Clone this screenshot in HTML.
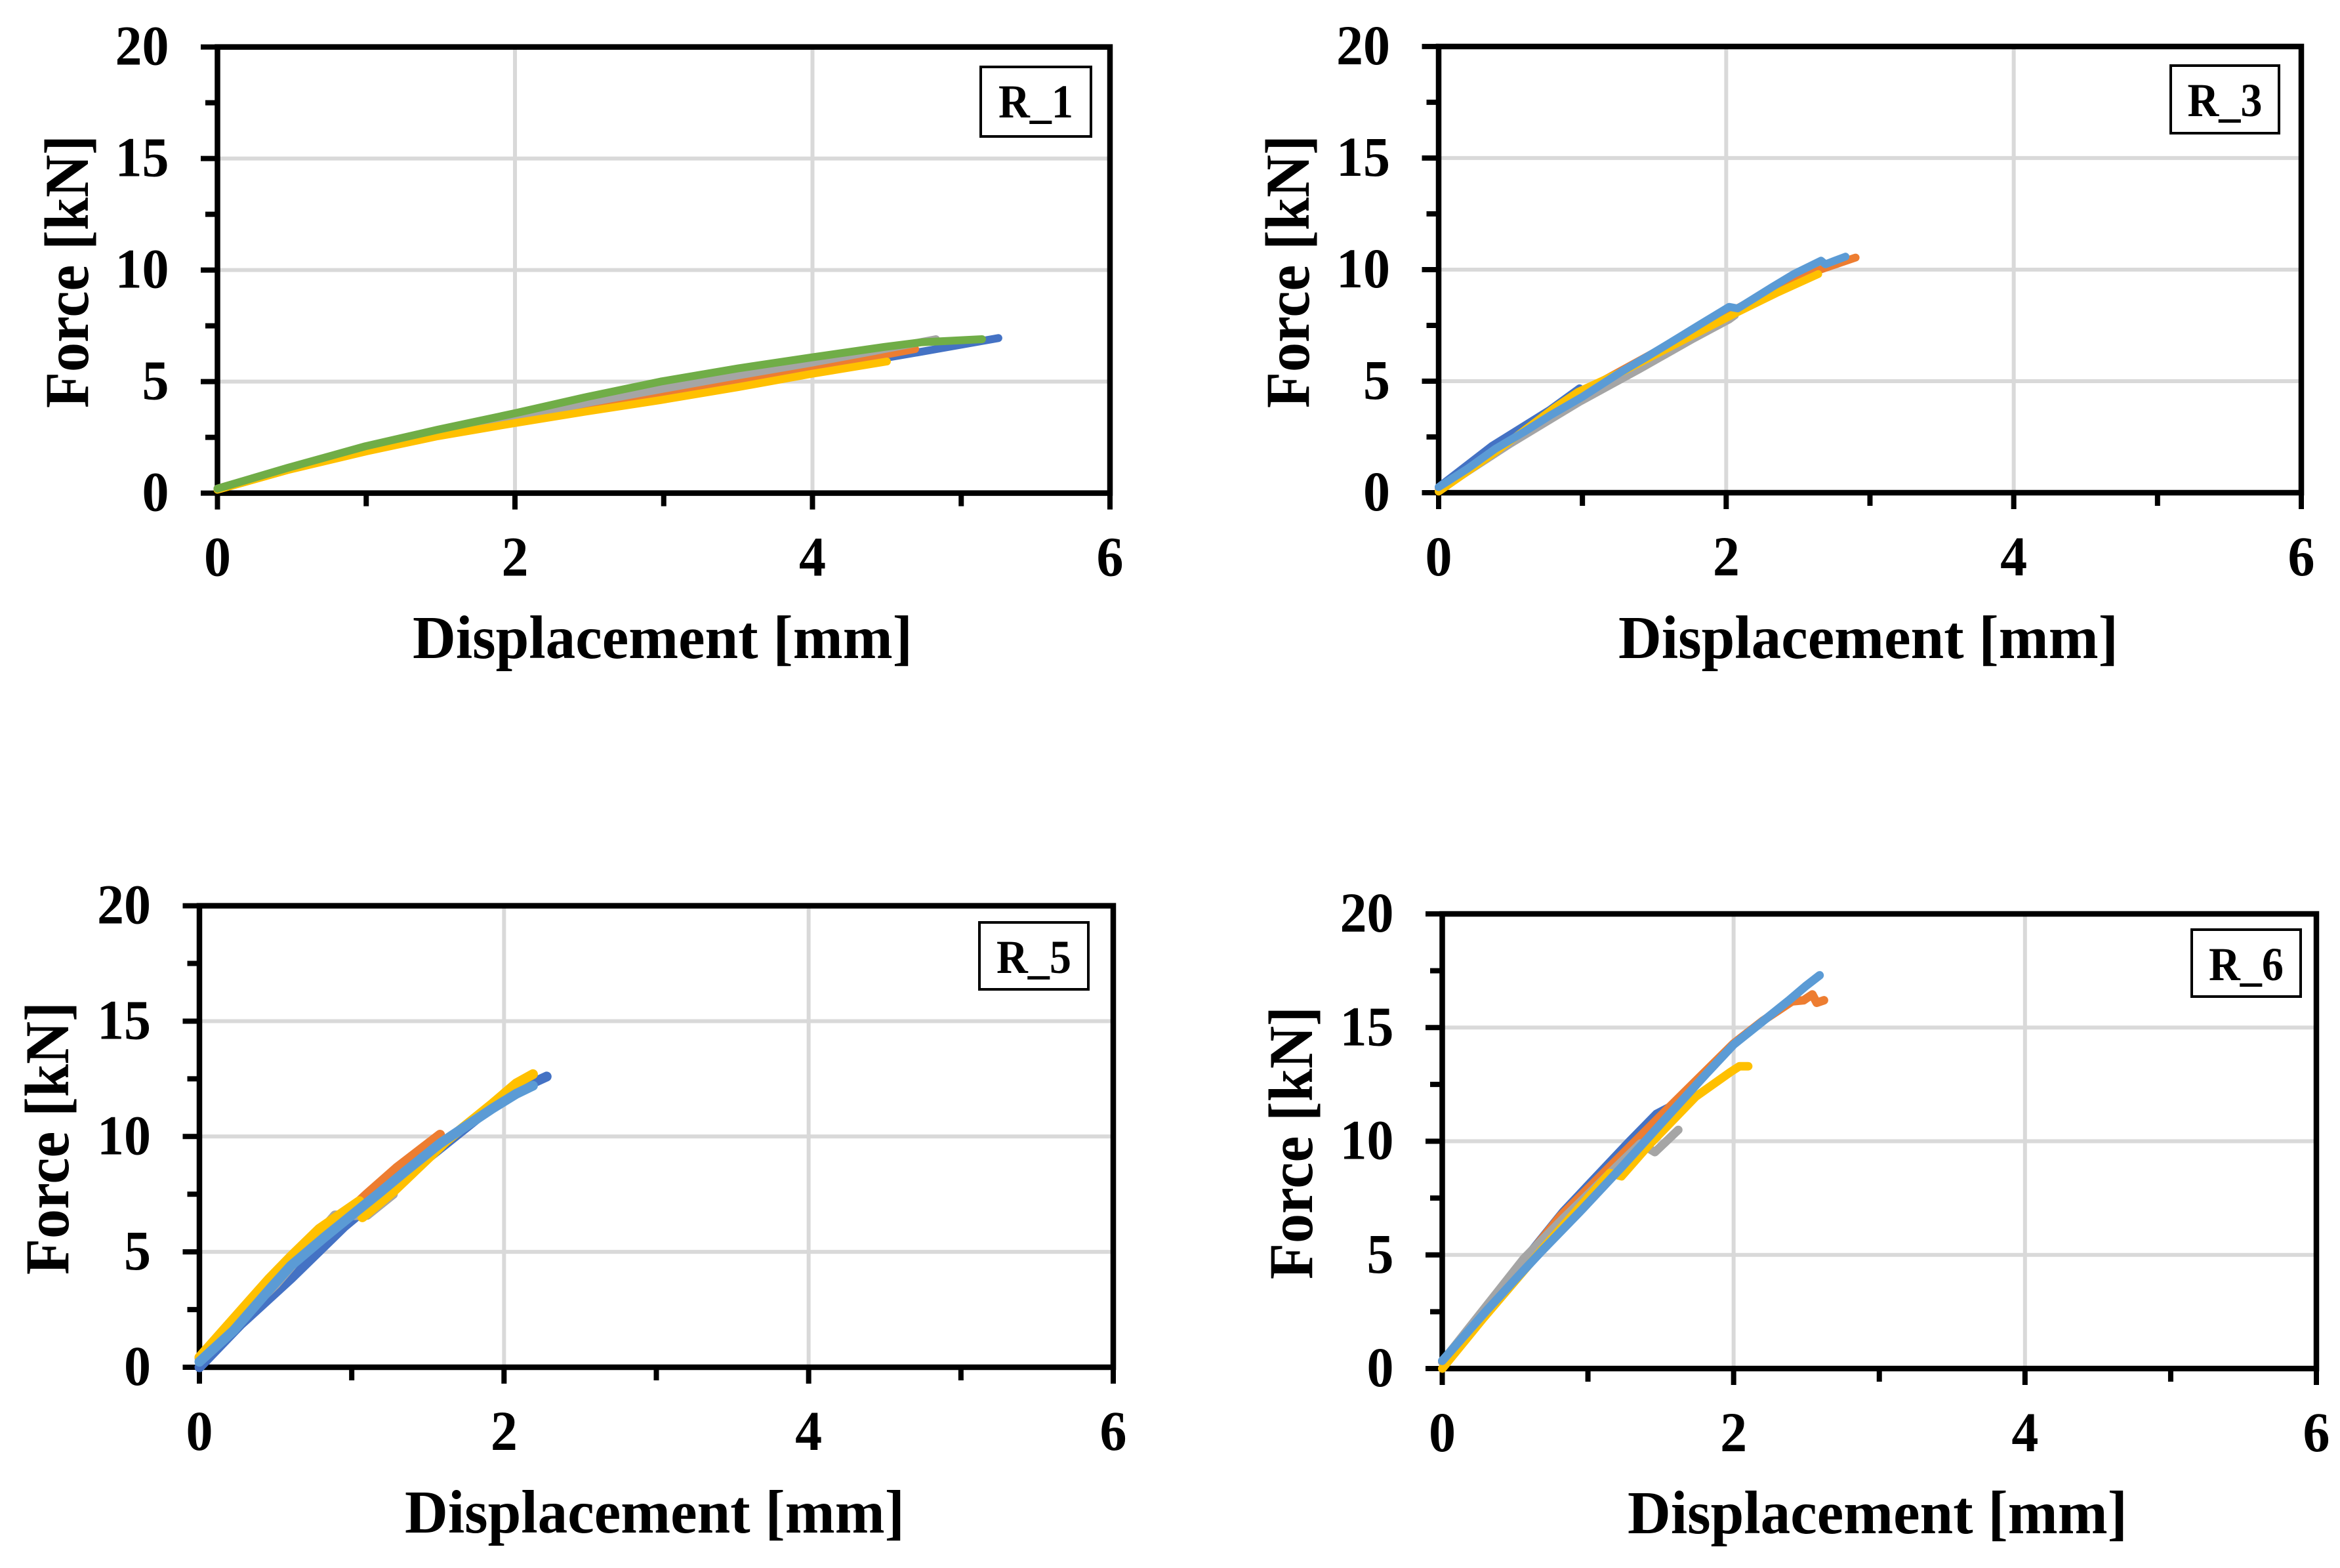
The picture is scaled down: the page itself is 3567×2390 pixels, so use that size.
<!DOCTYPE html>
<html>
<head>
<meta charset="utf-8">
<title>Force vs displacement R_1 R_3 R_5 R_6</title>
<style>
html,body{margin:0;padding:0;background:#fff;}
svg{display:block;}
text{font-family:"Liberation Serif",serif;font-weight:bold;fill:#000;}
</style>
</head>
<body>
<svg id="figure" xmlns="http://www.w3.org/2000/svg" width="3567" height="2390" viewBox="0 0 3567 2390"></svg>
<script>
const xMajorTicks = [0, 2, 4, 6];
const xMinorTicks = [1, 3, 5];
const yMajorTicks = [0, 5, 10, 15, 20];
const yMinorTicks = [2.5, 7.5, 12.5, 17.5];
const xAxisMax = 6;
const yAxisMax = 20;

const r1BlueDisp = [0, 0.47, 1, 1.48, 2, 2.49, 2.98, 3.5, 3.99, 4.76, 5.25];
const r1BlueForce = [0.2, 1.08, 1.95, 2.62, 3.3, 3.85, 4.37, 4.95, 5.49, 6.37, 6.95];
const r1OrangeDisp = [0, 0.47, 1, 1.48, 2, 2.39, 3.43, 3.99, 4.69];
const r1OrangeForce = [0.2, 1.1, 2, 2.68, 3.25, 3.67, 4.85, 5.58, 6.46];
const r1GreyDisp = [0, 0.47, 1, 1.48, 2, 2.49, 2.98, 3.5, 3.99, 4.4, 4.83];
const r1GreyForce = [0.2, 1.12, 2, 2.75, 3.4, 4.05, 4.66, 5.28, 5.84, 6.35, 6.9];
const r1YellowDisp = [0, 0.47, 1, 1.48, 2, 2.49, 2.98, 3.5, 3.99, 4.5];
const r1YellowForce = [0.15, 1.03, 1.87, 2.55, 3.14, 3.67, 4.17, 4.75, 5.34, 5.9];
const r1GreenDisp = [0, 0.47, 0.995, 1.48, 2, 2.49, 2.98, 3.5, 3.99, 4.48, 4.73, 5.14];
const r1GreenForce = [0.2, 1.13, 2.1, 2.84, 3.58, 4.32, 5, 5.59, 6.08, 6.55, 6.76, 6.9];

const r3BlueDisp = [0, 0.37, 0.77, 0.98];
const r3BlueForce = [0.25, 2.09, 3.7, 4.68];
const r3OrangeDisp = [0, 0.4, 0.755, 1, 1.63, 2.02, 2.32, 2.65, 2.9];
const r3OrangeForce = [0.2, 1.85, 3.23, 4.52, 6.75, 8.07, 9.1, 9.99, 10.54];
const r3GreyDisp = [0, 0.5, 0.98, 1.4, 1.77, 2.02, 2.06];
const r3GreyForce = [0.1, 2.2, 4.07, 5.55, 6.9, 7.76, 7.95];
const r3YellowDisp = [0, 0.4, 0.8, 0.97, 1.3, 1.63, 2.06, 2.35, 2.64];
const r3YellowForce = [0.05, 1.85, 3.78, 4.52, 5.5, 6.6, 8.03, 8.95, 9.8];
const r3LightDisp = [0, 0.2, 0.39, 0.6, 0.78, 1, 1.26, 1.45, 1.63, 1.82, 2.02, 2.08, 2.32, 2.47, 2.66, 2.69, 2.83];
const r3LightForce = [0.25, 1.07, 1.95, 2.75, 3.48, 4.3, 5.38, 6.1, 6.8, 7.55, 8.33, 8.26, 9.22, 9.8, 10.4, 10.24, 10.58];

const r5BlueDisp = [0, 0.27, 0.6, 0.95, 1.25, 1.55, 1.89, 2.1, 2.28];
const r5BlueForce = [0, 1.85, 3.84, 6.1, 7.75, 9.33, 11.13, 12.05, 12.6];
const r5OrangeDisp = [0, 0.5, 1.1, 1.3, 1.58];
const r5OrangeForce = [0.4, 3.8, 7.5, 8.66, 10.08];
const r5GreyDisp = [0, 0.5, 0.89, 1.1, 1.27];
const r5GreyForce = [0.4, 3.6, 6.58, 6.6, 7.5];
const r5YellowDisp = [0, 0.457, 0.6, 0.787, 1.05, 1.07, 1.27, 1.62, 1.92, 2.08, 2.19];
const r5YellowForce = [0.43, 3.83, 4.8, 6, 7.2, 6.5, 7.6, 9.8, 11.4, 12.3, 12.7];
const r5LightDisp = [0, 0.226, 0.47, 0.6, 0.82, 1.02, 1.18, 1.35, 1.58, 1.92, 2.08, 2.19];
const r5LightForce = [0.24, 1.6, 3.45, 4.4, 5.63, 6.7, 7.55, 8.48, 9.7, 11.2, 11.85, 12.2];

const r6BlueDisp = [0, 0.83, 1.28, 1.47, 1.59];
const r6BlueForce = [0.3, 6.9, 9.96, 11.2, 11.6];
const r6OrangeDisp = [0, 0.81, 1.59, 2, 2.2, 2.4, 2.48, 2.54, 2.57, 2.62];
const r6OrangeForce = [0.3, 6.7, 11.7, 14.3, 15.3, 16.15, 16.2, 16.46, 16.09, 16.2];
const r6GreyDisp = [0, 0.56, 0.83, 1.36, 1.46, 1.62];
const r6GreyForce = [0.3, 4.84, 6.6, 9.9, 9.52, 10.5];
const r6YellowDisp = [0, 0.28, 0.68, 1.15, 1.23, 1.42, 1.74, 1.98, 2.04, 2.1];
const r6YellowForce = [0, 2.2, 5.2, 8.6, 8.46, 9.84, 11.96, 13.05, 13.3, 13.3];
const r6LightDisp = [0, 0.3, 0.49, 0.68, 0.96, 1.23, 1.59, 1.81, 2, 2.38, 2.5, 2.59];
const r6LightForce = [0.34, 2.52, 3.84, 5.15, 7, 8.85, 11.4, 12.95, 14.25, 16.2, 16.85, 17.3];

const svg = document.getElementById('figure');
const NS = 'http://www.w3.org/2000/svg';
const BLUE = '#4472C4', ORANGE = '#ED7D31', GREY = '#A5A5A5', YELLOW = '#FFC000', GREEN = '#70AD47', LIGHT = '#5B9BD5';

function make(parent, tag, attrs) {
  const node = document.createElementNS(NS, tag);
  for (const k in attrs) node.setAttribute(k, attrs[k]);
  parent.appendChild(node);
  return node;
}

function drawPanel(p) {
  const sx = v => p.x0 + (p.x6 - p.x0) * v / xAxisMax;
  const sy = v => p.y0 + (p.y20 - p.y0) * v / yAxisMax;
  const g = make(svg, 'g', {});
  
  

  yMajorTicks.filter(v => v > 0 && v < yAxisMax).forEach(v => {
    const l = make(g, 'line', {x1: sx(0), x2: sx(xAxisMax), y1: sy(v), y2: sy(v), stroke: '#d9d9d9', 'stroke-width': 6});
    
    
  });
  xMajorTicks.filter(v => v > 0 && v < xAxisMax).forEach(v => {
    const l = make(g, 'line', {x1: sx(v), x2: sx(v), y1: sy(0), y2: sy(yAxisMax), stroke: '#d9d9d9', 'stroke-width': 6});
    
    
  });

  const frame = make(g, 'rect', {x: sx(0), y: sy(yAxisMax), width: sx(xAxisMax) - sx(0), height: sy(0) - sy(yAxisMax), fill: 'none', stroke: '#000', 'stroke-width': 8.5});
  
  

  xMajorTicks.forEach(v => {
    const t = make(g, 'line', {x1: sx(v), x2: sx(v), y1: sy(0), y2: sy(0) + 25, stroke: '#000', 'stroke-width': 8});
    
    
    const lab = make(g, 'text', {x: sx(v), y: sy(0) + 126, 'font-size': 86, 'text-anchor': 'middle', textLength: String(v).length * 41, lengthAdjust: 'spacingAndGlyphs'});
    
    
    lab.textContent = v;
  });
  xMinorTicks.forEach(v => {
    const t = make(g, 'line', {x1: sx(v), x2: sx(v), y1: sy(0), y2: sy(0) + 20, stroke: '#000', 'stroke-width': 8});
    
    
  });
  yMajorTicks.forEach(v => {
    const t = make(g, 'line', {x1: sx(0) - 25.5, x2: sx(0), y1: sy(v), y2: sy(v), stroke: '#000', 'stroke-width': 8});
    
    
    const lab = make(g, 'text', {x: sx(0) - 74, y: sy(v) + 27, 'font-size': 86, 'text-anchor': 'end', textLength: String(v).length * 41, lengthAdjust: 'spacingAndGlyphs'});
    
    
    lab.textContent = v;
  });
  yMinorTicks.forEach(v => {
    const t = make(g, 'line', {x1: sx(0) - 18.5, x2: sx(0), y1: sy(v), y2: sy(v), stroke: '#000', 'stroke-width': 8});
    
    
  });

  p.series.forEach(s => {
    const pts = s.x.map((v, i) => sx(v).toFixed(1) + ',' + sy(s.y[i]).toFixed(1)).join(' ');
    const line = make(g, 'polyline', {points: pts, fill: 'none', stroke: s.color, 'stroke-width': p.lineWidth, 'stroke-linejoin': 'round', 'stroke-linecap': 'round'});
    
    
  });

  const xt = make(g, 'text', {x: p.xTitleX, y: p.xTitleY, 'font-size': 93, 'text-anchor': 'middle', textLength: 762, lengthAdjust: 'spacingAndGlyphs'});
  
  
  xt.textContent = 'Displacement [mm]';

  const yt = make(g, 'text', {transform: 'translate(' + p.yTitleX + ',' + p.yTitleY + ') rotate(-90)', 'font-size': 95, 'text-anchor': 'middle', textLength: 416, lengthAdjust: 'spacingAndGlyphs'});
  
  
  yt.textContent = 'Force [kN]';

  const box = make(g, 'rect', {x: p.box[0], y: p.box[1], width: p.box[2], height: p.box[3], fill: '#fff', stroke: '#000', 'stroke-width': 4});
  
  
  const bt = make(g, 'text', {x: p.box[0] + p.box[2] / 2, y: p.box[1] + 77, 'font-size': 72, 'text-anchor': 'middle', textLength: 114, lengthAdjust: 'spacingAndGlyphs'});
  
  
  bt.textContent = p.label;
}

drawPanel({id: 'r1', label: 'R_1', x0: 331.5, x6: 1692, y0: 751.6, y20: 71.6, lineWidth: 12,
  xTitleX: 1010, xTitleY: 1003, yTitleX: 134, yTitleY: 414, box: [1495, 102, 168, 106],
  series: [
    {name: 'blue', color: BLUE, x: r1BlueDisp, y: r1BlueForce},
    {name: 'orange', color: ORANGE, x: r1OrangeDisp, y: r1OrangeForce},
    {name: 'grey', color: GREY, x: r1GreyDisp, y: r1GreyForce},
    {name: 'yellow', color: YELLOW, x: r1YellowDisp, y: r1YellowForce},
    {name: 'green', color: GREEN, x: r1GreenDisp, y: r1GreenForce}
  ]});

drawPanel({id: 'r3', label: 'R_3', x0: 2193, x6: 3508, y0: 751, y20: 70.9, lineWidth: 12,
  xTitleX: 2848, xTitleY: 1003, yTitleX: 1995, yTitleY: 414, box: [3309, 100, 165, 103],
  series: [
    {name: 'blue', color: BLUE, x: r3BlueDisp, y: r3BlueForce},
    {name: 'orange', color: ORANGE, x: r3OrangeDisp, y: r3OrangeForce},
    {name: 'grey', color: GREY, x: r3GreyDisp, y: r3GreyForce},
    {name: 'yellow', color: YELLOW, x: r3YellowDisp, y: r3YellowForce},
    {name: 'light-blue', color: LIGHT, x: r3LightDisp, y: r3LightForce}
  ]});

drawPanel({id: 'r5', label: 'R_5', x0: 304, x6: 1697, y0: 2084, y20: 1380.6, lineWidth: 15,
  xTitleX: 998, xTitleY: 2336, yTitleX: 104, yTitleY: 1735, box: [1493, 1406, 166, 102],
  series: [
    {name: 'blue', color: BLUE, x: r5BlueDisp, y: r5BlueForce},
    {name: 'orange', color: ORANGE, x: r5OrangeDisp, y: r5OrangeForce},
    {name: 'grey', color: GREY, x: r5GreyDisp, y: r5GreyForce},
    {name: 'yellow', color: YELLOW, x: r5YellowDisp, y: r5YellowForce},
    {name: 'light-blue', color: LIGHT, x: r5LightDisp, y: r5LightForce}
  ]});

drawPanel({id: 'r6', label: 'R_6', x0: 2198.5, x6: 3531, y0: 2086, y20: 1393, lineWidth: 13,
  xTitleX: 2862, xTitleY: 2337, yTitleX: 2000, yTitleY: 1742, box: [3341, 1417, 166, 102],
  series: [
    {name: 'blue', color: BLUE, x: r6BlueDisp, y: r6BlueForce},
    {name: 'orange', color: ORANGE, x: r6OrangeDisp, y: r6OrangeForce},
    {name: 'grey', color: GREY, x: r6GreyDisp, y: r6GreyForce},
    {name: 'yellow', color: YELLOW, x: r6YellowDisp, y: r6YellowForce},
    {name: 'light-blue', color: LIGHT, x: r6LightDisp, y: r6LightForce}
  ]});
</script>
</body>
</html>
